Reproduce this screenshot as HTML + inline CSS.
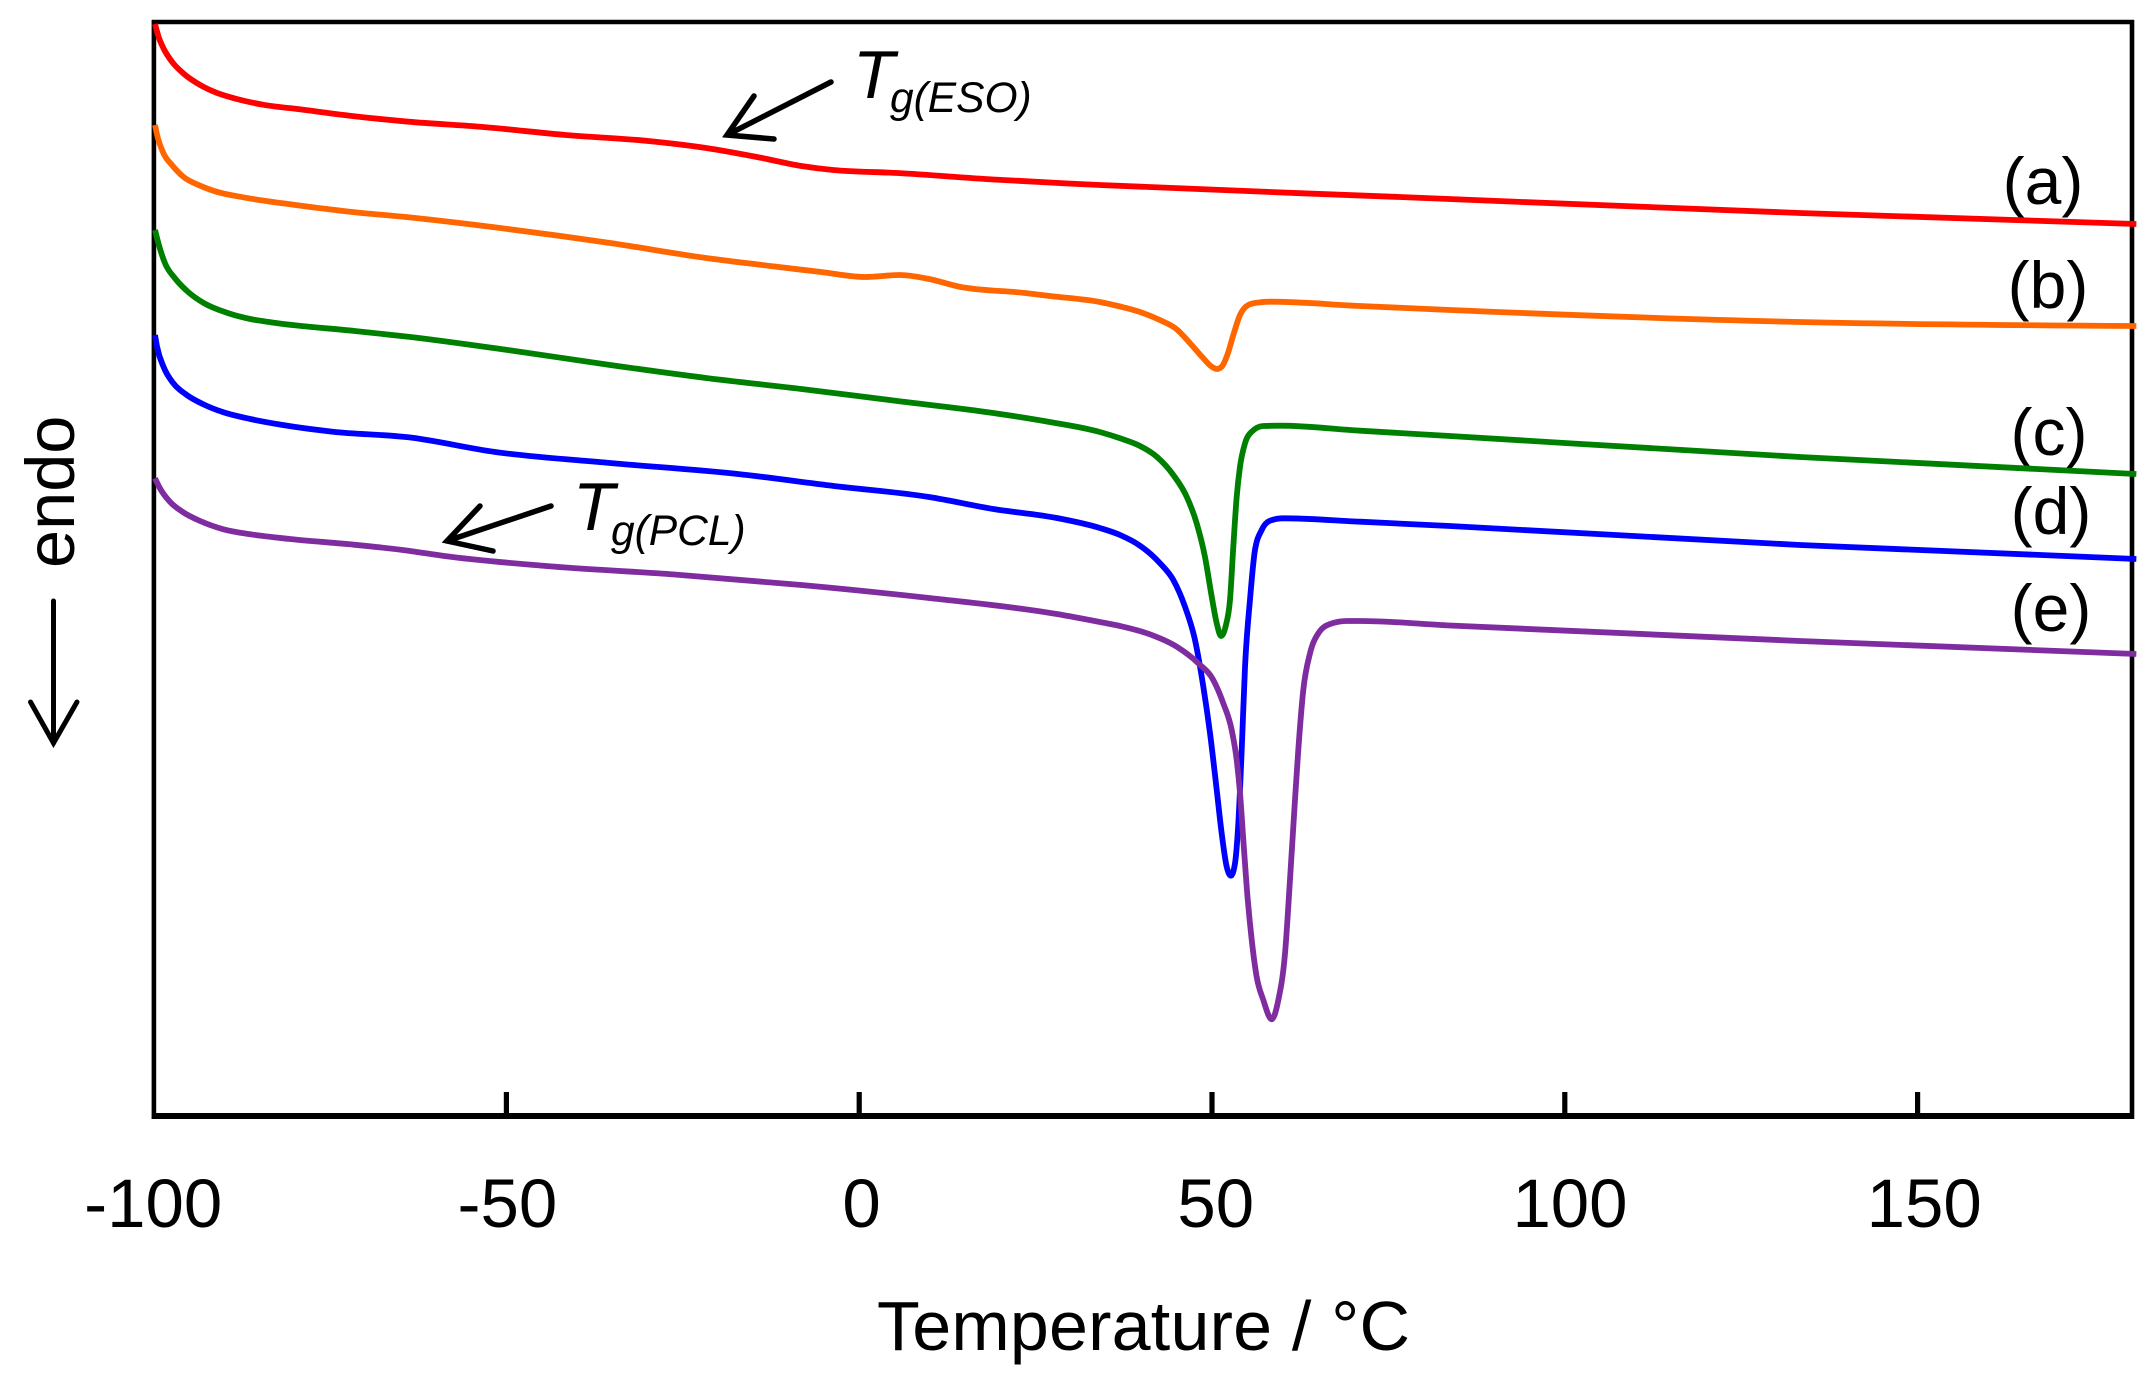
<!DOCTYPE html>
<html lang="en">
<head>
<meta charset="utf-8">
<title>DSC thermograms</title>
<style>
html,body{margin:0;padding:0;background:#fff;}
svg{display:block;}
text{font-family:"Liberation Sans",Arial,sans-serif;fill:#000;}
</style>
</head>
<body>
<svg id="chart" xmlns="http://www.w3.org/2000/svg" width="2151" height="1381" viewBox="0 0 2151 1381">
  <rect x="0" y="0" width="2151" height="1381" fill="#fff"/>
  <g id="labels" font-size="66" text-anchor="middle">
    <text x="2043" y="204">(a)</text>
    <text x="2048" y="308">(b)</text>
    <text x="2049" y="455">(c)</text>
    <text x="2051" y="534">(d)</text>
    <text x="2051" y="631">(e)</text>
  </g>
  <g id="axes"></g>
  <g id="series"></g>
  <text x="877" y="1350" font-size="70" textLength="533" lengthAdjust="spacing">Temperature / °C</text>
  <text transform="translate(74 568) rotate(-90)" font-size="68.5">endo</text>
  <g fill="none" stroke="#000" stroke-width="5" stroke-linecap="round" stroke-linejoin="miter">
    <path d="M53.5 601V743"/>
    <path d="M30.5 702L53.5 743L77 702"/>
  </g>
  <g>
    <path d="M831 82L727 135M754 96L727 135L774 139" fill="none" stroke="#000" stroke-width="5.5" stroke-linecap="round" stroke-linejoin="miter"/>
    <text x="853" y="98" font-size="68" font-style="italic">T</text>
    <text x="890" y="112" font-size="42.5" font-style="italic">g(ESO)</text>
  </g>
  <g>
    <path d="M551 506L447 541M480 506L447 541L493 551" fill="none" stroke="#000" stroke-width="5.5" stroke-linecap="round" stroke-linejoin="miter"/>
    <text x="573" y="530" font-size="68" font-style="italic">T</text>
    <text x="611" y="545" font-size="42.5" font-style="italic">g(PCL)</text>
  </g>
</svg>
<script>
const xTickValues = [-50, 0, 50, 100, 150];
const xTickLabels = [-100, -50, 0, 50, 100, 150];

const tempA = [-99.8,-99.3,-98.6,-97.4,-95.8,-93.4,-91.1,-88.2,-84.5,-79.3,-72.2,-63.9,-53.3,-41.6,-29.9,-21.7,-14.5,-8.2,-3.7,5.4,19.0,34.1,76.6,133.3,181];
const heatA = [109.2,107.93,106.77,105.43,104.27,103.1,102.33,101.7,101.13,100.67,100.03,99.43,98.9,98.1,97.5,96.8,95.9,95.0,94.6,94.3,93.65,93.1,91.9,90.3,89.2];

const tempB = [-99.8,-99.5,-98.6,-97.4,-95.8,-93.4,-91.1,-87.3,-81.7,-72.2,-63.9,-49.8,-35.3,-21.7,-12.6,-5.4,0.8,5.8,9.9,14.4,23.5,27.0,34.1,36.97,39.8,42.6,45.0,46.9,48.77,49.96,50.67,51.37,52.17,53.02,53.97,55.14,56.33,58.22,70.98,83.7,133.3,181];
const heatB = [99.1,98.1,96.27,95.1,93.93,93.03,92.43,91.87,91.27,90.43,89.87,88.7,87.3,85.8,85.0,84.4,83.9,84.1,83.7,82.9,82.3,82.0,81.4,80.95,80.4,79.6,78.67,77.27,75.77,74.93,74.7,74.93,76.1,78.1,80.1,81.1,81.33,81.43,81.0,80.6,79.4,79.0];

const tempC = [-99.8,-99.33,-98.38,-96.97,-95.1,-92.9,-89.5,-86.3,-83.2,-71.5,-63.9,-49.8,-35.3,-21.7,-8.2,5.4,19.0,27.0,34.1,36.97,39.8,42.16,44.52,46.41,47.83,49.0,49.96,50.67,51.28,51.98,52.55,53.02,53.5,53.97,54.68,55.63,57.27,59.64,70.98,83.7,133.3,181];
const heatC = [88.6,87.3,85.27,83.77,82.4,81.3,80.3,79.7,79.35,78.5,77.93,76.6,75.1,73.8,72.7,71.5,70.3,69.4,68.4,67.77,67.0,65.93,64.1,61.93,59.27,55.93,51.93,49.27,48.0,49.1,51.6,56.93,61.93,64.93,67.27,68.43,69.0,69.03,68.53,68.0,65.9,64.2];

const tempD = [-99.8,-99.5,-98.6,-97.2,-95.3,-92.95,-90.1,-86.3,-81.7,-74.6,-63.9,-51.6,-35.3,-17.2,-3.6,9.9,19.0,28.0,34.1,36.97,39.8,42.64,44.52,46.17,47.59,48.77,49.72,50.67,51.37,52.08,52.69,53.26,53.73,54.21,54.68,55.38,56.09,57.04,58.22,60.1,70.98,83.7,133.3,181];
const heatD = [78.1,76.9,74.93,73.27,72.1,71.17,70.37,69.7,69.1,68.43,67.87,66.4,65.3,64.2,63.0,61.9,60.7,59.8,58.8,58.1,57.03,55.27,53.6,50.93,47.6,42.93,38.27,32.6,28.27,24.93,24.03,25.27,29.27,36.6,44.93,51.6,56.6,58.6,59.53,59.77,59.43,59.0,57.1,55.7];

const tempE = [-99.8,-99.1,-97.7,-95.8,-93.4,-90.1,-86.3,-80.7,-72.2,-63.9,-58.8,-44.4,-26.2,-8.2,9.9,28.0,34.1,36.97,41.2,45.0,48.06,50.18,51.6,52.79,53.5,53.97,54.44,55.07,55.63,56.33,57.27,58.46,59.4,60.35,61.05,61.76,62.23,62.94,63.89,65.07,66.73,69.09,70.98,83.7,133.3,181];
const heatE = [63.77,62.77,61.43,60.37,59.5,58.67,58.17,57.7,57.17,56.53,56.0,55.0,54.15,53.1,51.8,50.2,49.4,49.0,48.17,46.93,45.27,43.6,41.27,38.6,35.6,32.3,27.6,21.6,17.6,13.93,11.6,9.67,11.6,16.27,23.6,31.6,36.6,42.6,46.27,48.27,49.2,49.5,49.5,49.05,47.5,46.2];

const SVG_NS = 'http://www.w3.org/2000/svg';
const plotLeft = 153.9, plotRight = 2132, plotTop = 22, plotBottom = 1116;
function xScale(t) { return 859.2 + 7.056 * t; }
function labelXScale(t) { return 861.6 + 7.084 * t; }
function yScale(v) { return 1116 - 10 * v; }

const axes = document.getElementById('axes');
const series = document.getElementById('series');

function frameLine(x1, y1, x2, y2, w) {
  const l = document.createElementNS(SVG_NS, 'line');
  l.setAttribute('x1', x1);
  l.setAttribute('y1', y1);
  l.setAttribute('x2', x2);
  l.setAttribute('y2', y2);
  l.setAttribute('stroke', '#000');
  l.setAttribute('stroke-width', w);
  axes.appendChild(l);
  return l;
}
const leftLine = frameLine(plotLeft, plotTop - 2, plotLeft, plotBottom + 3, 4.6);


const rightLine = frameLine(plotRight, plotTop - 2, plotRight, plotBottom + 3, 4.6);


const topLine = frameLine(plotLeft - 2, plotTop, plotRight + 2, plotTop, 4.4);


const bottomLine = frameLine(plotLeft - 2, plotBottom, plotRight + 2, plotBottom, 6);



xTickValues.forEach(function (t) {
  const tick = frameLine(xScale(t), 1092, xScale(t), plotBottom, 5.2);
  
  
});

xTickLabels.forEach(function (t) {
  const label = document.createElementNS(SVG_NS, 'text');
  
  
  label.setAttribute('x', labelXScale(t));
  label.setAttribute('y', 1227);
  label.setAttribute('font-size', '69');
  label.setAttribute('text-anchor', 'middle');
  label.textContent = String(t);
  axes.appendChild(label);
});

function curvePath(temps, heats) {
  const p = temps.map(function (t, i) { return [xScale(t), yScale(heats[i])]; });
  const n = p.length;
  const h = [], s = [], m = [];
  for (let i = 0; i < n - 1; i++) {
    h[i] = p[i + 1][0] - p[i][0];
    s[i] = (p[i + 1][1] - p[i][1]) / h[i];
  }
  for (let i = 1; i < n - 1; i++) {
    if (s[i - 1] * s[i] <= 0) {
      m[i] = 0;
    } else {
      const w = (s[i - 1] * h[i] + s[i] * h[i - 1]) / (h[i - 1] + h[i]);
      m[i] = Math.sign(s[i]) * Math.min(Math.abs(s[i - 1]), Math.abs(s[i]), 0.5 * Math.abs(w)) * 2;
    }
  }
  m[0] = (3 * s[0] - m[1]) / 2;
  m[n - 1] = (3 * s[n - 2] - m[n - 2]) / 2;
  let d = 'M' + p[0][0].toFixed(2) + ' ' + p[0][1].toFixed(2);
  for (let i = 0; i < n - 1; i++) {
    const dx = h[i] / 3;
    d += 'C' + (p[i][0] + dx).toFixed(2) + ' ' + (p[i][1] + m[i] * dx).toFixed(2) + ' ' +
      (p[i + 1][0] - dx).toFixed(2) + ' ' + (p[i + 1][1] - m[i + 1] * dx).toFixed(2) + ' ' +
      p[i + 1][0].toFixed(2) + ' ' + p[i + 1][1].toFixed(2);
  }
  return d;
}

function addCurve(temps, heats, color) {
  const path = document.createElementNS(SVG_NS, 'path');
  path.setAttribute('d', curvePath(temps, heats));
  path.setAttribute('fill', 'none');
  path.setAttribute('stroke', color);
  path.setAttribute('stroke-width', '5.8');
  path.setAttribute('stroke-linejoin', 'round');
  series.appendChild(path);
  return path;
}

const curveA = addCurve(tempA, heatA, '#ff0000');


const curveB = addCurve(tempB, heatB, '#ff6600');


const curveC = addCurve(tempC, heatC, '#008000');


const curveD = addCurve(tempD, heatD, '#0000ff');


const curveE = addCurve(tempE, heatE, '#7f2ca1');


</script>
</body>
</html>
